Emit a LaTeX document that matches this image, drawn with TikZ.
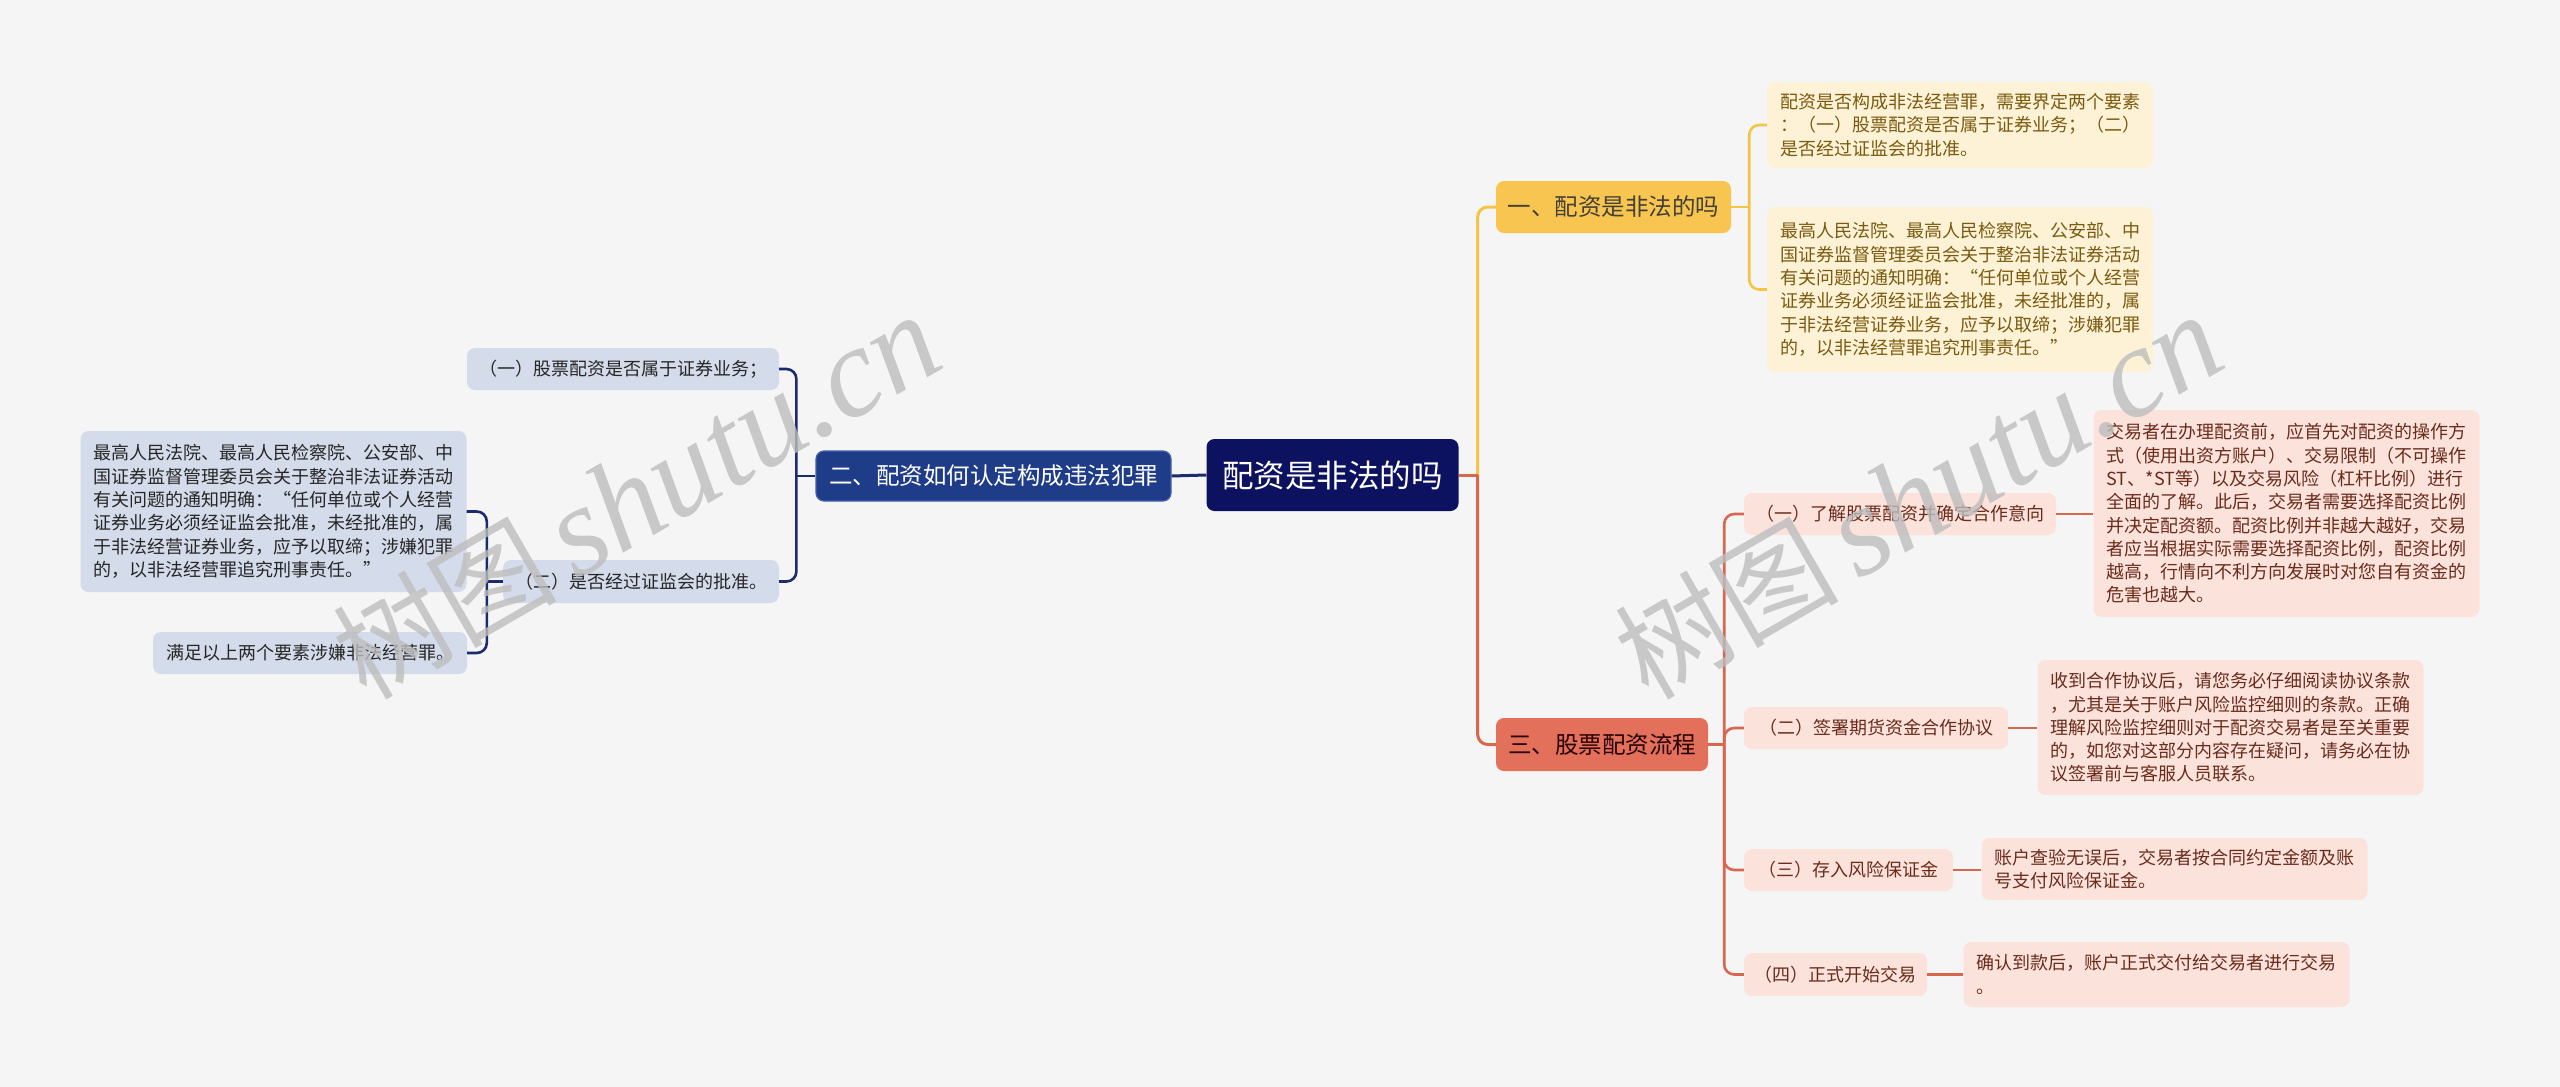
\documentclass[tikz,border=0pt]{standalone}
\usepackage{fontspec}
\setmainfont{Noto Sans CJK SC}
\newfontfamily\wmfont{Liberation Serif}
\usetikzlibrary{calc}
\definecolor{bgc}{HTML}{F5F5F5}
\definecolor{rootc}{HTML}{0C1160}
\definecolor{navy}{HTML}{1F3C88}
\definecolor{navyb}{HTML}{4561AD}
\definecolor{navyl}{HTML}{1B2C6E}
\definecolor{bluel}{HTML}{D4DBEA}
\definecolor{yel}{HTML}{F8C650}
\definecolor{yell}{HTML}{F5C445}
\definecolor{yelleaf}{HTML}{FDF2D5}
\definecolor{yeltext}{HTML}{7A5A10}
\definecolor{redb}{HTML}{E2705A}
\definecolor{redl}{HTML}{D8674F}
\definecolor{pink}{HTML}{FBE3DC}
\definecolor{pinktext}{HTML}{6B2B1B}
\definecolor{wmc}{HTML}{BDBDBD}
\begin{document}
\begin{tikzpicture}[x=1pt,y=-1pt,
  base/.style={rounded corners=8pt, inner sep=0pt, align=center},
  rootn/.style={base, fill=rootc, text=white, minimum width=252pt, minimum height=72pt, font=\fontsize{31.5}{36}\selectfont},
  bonen/.style={base, fill=yel, text=black!85!yellow, minimum width=235pt, minimum height=52pt, font=\fontsize{23.5}{28}\selectfont},
  btwon/.style={base, fill=navy, draw=navyb, line width=1.2pt, text=white, minimum width=355pt, minimum height=50pt, font=\fontsize{23.5}{28}\selectfont},
  bthreen/.style={base, fill=redb, text=black!85!red, minimum width=212pt, minimum height=53pt, font=\fontsize{23.5}{28}\selectfont},
  subn/.style={base, minimum height=42pt, font=\fontsize{18}{22}\selectfont},
  bluesub/.style={subn, fill=bluel, text=black!85},
  pinksub/.style={subn, fill=pink, text=pinktext},
  leafn/.style={rounded corners=8pt, inner xsep=13pt, inner ysep=0pt, text width=360pt, align=left, font=\fontsize{18}{23.3}\selectfont},
  yleaf/.style={leafn, fill=yelleaf, text=yeltext},
  bleaf/.style={leafn, fill=bluel, text=black!85},
  pleaf/.style={leafn, fill=pink, text=pinktext},
  cy/.style={draw=yell, line width=3pt},
  cr/.style={draw=redl, line width=3pt},
  cb/.style={draw=navyl, line width=3pt},
  wm/.style={text=wmc, opacity=0.8, rotate=30, anchor=base west, inner sep=0pt}
]
\fill[bgc] (0,0) rectangle (2560,1087);
\useasboundingbox (0,0) rectangle (2560,1087);

% main nodes
\node[rootn] (root) at (1332.5,475) {配资是非法的吗};
\node[bonen] (b1) at (1613.5,207) {一、配资是非法的吗};
\node[btwon] (b2) at (993.5,476) {二、配资如何认定构成违法犯罪};
\node[bthreen] (b3) at (1602,744.5) {三、股票配资流程};

% branch 1 leaves
\node[yleaf, minimum height=86pt] (l1a) at (1960,125) {配资是否构成非法经营罪，需要界定两个要素\\：（一）股票配资是否属于证券业务；（二）\\是否经过证监会的批准。};
\node[yleaf, minimum height=165pt] (l1b) at (1960,289.5) {最高人民法院、最高人民检察院、公安部、中\\国证券监督管理委员会关于整治非法证券活动\\有关问题的通知明确：“任何单位或个人经营\\证券业务必须经证监会批准，未经批准的，属\\于非法经营证券业务，应予以取缔；涉嫌犯罪\\的，以非法经营罪追究刑事责任。”};

% branch 2
\node[bluesub, minimum width=312pt] (l2a) at (623,369) {（一）股票配资是否属于证券业务；};
\node[bluesub, minimum width=276pt, minimum height=43pt] (l2b) at (641,581.5) {（二）是否经过证监会的批准。};
\node[bleaf, minimum height=161pt] (l2b1) at (273.5,511.5) {最高人民法院、最高人民检察院、公安部、中\\国证券监督管理委员会关于整治非法证券活动\\有关问题的通知明确：“任何单位或个人经营\\证券业务必须经证监会批准，未经批准的，属\\于非法经营证券业务，应予以取缔；涉嫌犯罪\\的，以非法经营罪追究刑事责任。”};
\node[bluesub, minimum width=314pt] (l2b2) at (310,653) {满足以上两个要素涉嫌非法经营罪。};

% branch 3
\node[pinksub, minimum width=312pt] (s1) at (1900,514) {（一）了解股票配资并确定合作意向};
\node[pinksub, minimum width=264pt] (s2) at (1876,728) {（二）签署期货资金合作协议};
\node[pinksub, minimum width=209pt] (s3) at (1848.5,870) {（三）存入风险保证金};
\node[pinksub, minimum width=183pt, minimum height=43pt] (s4) at (1835.5,974.5) {（四）正式开始交易};

\node[pleaf, minimum height=207pt] (t1) at (2286.5,513.5) {交易者在办理配资前，应首先对配资的操作方\\式（使用出资方账户）、交易限制（不可操作\\ST、*ST等）以及交易风险（杠杆比例）进行\\全面的了解。此后，交易者需要选择配资比例\\并决定配资额。配资比例并非越大越好，交易\\者应当根据实际需要选择配资比例，配资比例\\越高，行情向不利方向发展时对您自有资金的\\危害也越大。};
\node[pleaf, minimum height=135pt] (t2) at (2230.5,727.5) {收到合作协议后，请您务必仔细阅读协议条款\\，尤其是关于账户风险监控细则的条款。正确\\理解风险监控细则对于配资交易者是至关重要\\的，如您对这部分内容存在疑问，请务必在协\\议签署前与客服人员联系。};
\node[pleaf, minimum height=62pt] (t3) at (2174.5,869) {账户查验无误后，交易者按合同约定金额及账\\号支付风险保证金。};
\node[pleaf, minimum height=65pt] (t4) at (2156.5,974.5) {确认到款后，账户正式交付给交易者进行交易\\。};

% junctions
\coordinate (j0) at ($(root.east)+(19,0)$);
\coordinate (j1) at ($(b1.east)+(18,0)$);
\coordinate (j2) at ($(b2.west)+(-19,0)$);
\coordinate (j2b) at ($(l2b.west)+(-16,0)$);
\coordinate (j3) at ($(b3.east)+(16,0)$);

% connectors root
\draw[cy, rounded corners=10pt] (j0) |- (b1.west);
\draw[cr, rounded corners=10pt] (j0) |- (b3.west);
\draw[cr] (root.east) -- (j0);
\draw[cb] (root.west) -- (b2.east);

% branch 1
\draw[cy, line width=2.6pt] (b1.east) -- (j1);
\draw[cy, line width=2.6pt, rounded corners=10pt] (j1) |- (l1a.west);
\draw[cy, line width=2.6pt, rounded corners=10pt] (j1) |- (l1b.west);

% branch 2
\draw[cb, line width=2.6pt] (b2.west) -- (j2);
\draw[cb, line width=2.6pt, rounded corners=10pt] (j2) |- (l2a.east);
\draw[cb, line width=2.6pt, rounded corners=10pt] (j2) |- (l2b.east);
\draw[cb, line width=2.6pt] (l2b.west) -- (j2b);
\draw[cb, line width=2.6pt, rounded corners=10pt] (j2b) |- (l2b1.east);
\draw[cb, line width=2.6pt, rounded corners=10pt] (j2b) |- (l2b2.east);

% branch 3
\draw[cr, line width=2.6pt] (b3.east) -- (j3);
\foreach \s in {s1,s2,s3,s4}{
  \draw[cr, line width=2.6pt, rounded corners=10pt] (j3) |- (\s.west);
}
\draw[cr, line width=2.6pt] (s1.east) -- (t1.west |- s1.east);
\draw[cr, line width=2.6pt] (s2.east) -- (t2.west |- s2.east);
\draw[cr, line width=2.6pt] (s3.east) -- (t3.west |- s3.east);
\draw[cr, line width=2.6pt] (s4.east) -- (t4.west |- s4.east);

% watermarks
\node[wm] (wm1) at (366,702) {\fontsize{112}{112}\selectfont 树图\,{\wmfont\itshape\fontsize{128}{128}\selectfont shutu.cn}};
\node[wm] (wm2) at (1648,702) {\fontsize{112}{112}\selectfont 树图\,{\wmfont\itshape\fontsize{128}{128}\selectfont shutu.cn}};
\end{tikzpicture}
\end{document}
